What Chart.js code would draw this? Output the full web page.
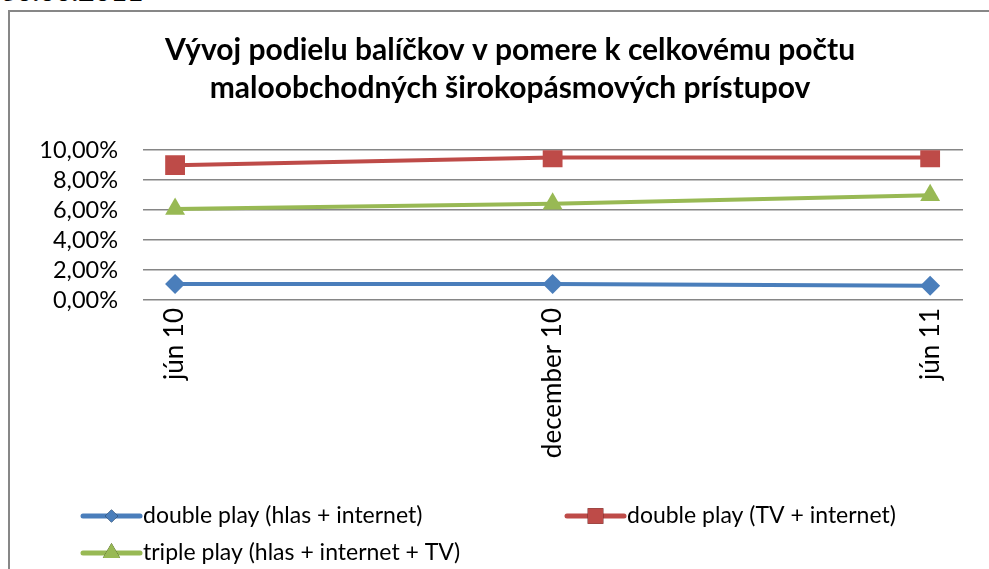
<!DOCTYPE html>
<html>
<head>
<meta charset="utf-8">
<script src="https://cdn.jsdelivr.net/npm/chart.js@4/dist/chart.umd.min.js"></script>
<style>
  html, body { margin: 0; padding: 0; background: #ffffff; width: 989px; height: 569px; overflow: hidden; }
  #frame { position: absolute; left: 8px; top: 10px; width: 1000px; height: 700px; border-left: 2px solid #878787; border-top: 2px solid #878787; box-sizing: border-box; }
  #date { position: absolute; left: 0px; top: -27px; font: bold 28px Lato, sans-serif; color: #000; white-space: nowrap; line-height: 34px; }
  #wrap { position: absolute; left: 0; top: 0; width: 989px; height: 569px; }
</style>
</head>
<body>
<div id="date">30.06.2011</div>
<div id="frame"></div>
<div id="wrap"><canvas id="c" width="989" height="569"></canvas></div>
<script>
const categories = ['jún 10', 'december 10', 'jún 11'];
const seriesNames = ['double play (hlas + internet)', 'double play (TV + internet)', 'triple play (hlas + internet + TV)'];
const hlasInternet = [1.07, 1.07, 0.95];
const tvInternet = [9.0, 9.52, 9.52];
const triplePlay = [6.08, 6.42, 7.0];
const yTicks = [0, 2, 4, 6, 8, 10];
const titleLines = ['Vývoj podielu balíčkov v pomere k celkovému počtu', 'maloobchodných širokopásmových prístupov'];

const colors = ['#4a7ebb', '#be4b48', '#98b954'];
const styles = ['rectRot', 'rect', 'triangle'];
const radii = [10, 14, 11.5];
const legendRadii = [6.5, 11, 10];

function toPoints(arr) { return arr.map((v, i) => ({ x: i, y: v })); }
const allSeries = [hlasInternet, tvInternet, triplePlay];

const legendPlugin = {
  id: 'customLegend',
  afterLayout(chart) {
    if (chart.titleBlock) { chart.titleBlock.left = 57; }
  },
  afterDraw(chart) {
    const ctx = chart.ctx;
    const pos = [
      { x: 83, y: 516 },
      { x: 567, y: 516 },
      { x: 83, y: 553 }
    ];
    chart.data.datasets.forEach((ds, i) => {
      const p = pos[i];
      ctx.save();
      ctx.strokeStyle = ds.borderColor;
      ctx.lineWidth = 5;
      ctx.lineCap = 'round';
      ctx.beginPath();
      ctx.moveTo(p.x, p.y);
      ctx.lineTo(p.x + 57, p.y);
      ctx.stroke();
      Chart.helpers.drawPoint(ctx, {
        pointStyle: ds.pointStyle,
        radius: legendRadii[i],
        rotation: 0,
        borderWidth: 0
      }, p.x + 28.5, p.y);
      ctx.fillStyle = ds.borderColor;
      ctx.fill();
      ctx.fillStyle = '#000';
      ctx.font = '23px Lato, sans-serif';
      ctx.textBaseline = 'middle';
      ctx.textAlign = 'left';
      ctx.fillText(ds.label, p.x + 60, p.y);
      ctx.restore();
    });
  }
};

new Chart(document.getElementById('c'), {
  type: 'line',
  data: {
    datasets: allSeries.map((s, i) => ({
      label: seriesNames[i],
      data: toPoints(s),
      borderColor: colors[i],
      backgroundColor: colors[i],
      borderWidth: 4,
      pointStyle: styles[i],
      pointRadius: radii[i],
      pointHoverRadius: radii[i],
      pointBorderWidth: 0,
      tension: 0
    }))
  },
  options: {
    responsive: false,
    animation: false,
    events: [],
    layout: { padding: { left: 0, right: 26, top: 0, bottom: 100 } },
    plugins: {
      legend: { display: false },
      tooltip: { enabled: false },
      title: {
        display: true,
        text: titleLines,
        color: '#000',
        font: { family: 'Lato, sans-serif', size: 30, weight: 'bold', lineHeight: 1.27 },
        padding: { top: 31, bottom: 43 }
      }
    },
    scales: {
      x: {
        type: 'linear',
        min: -0.085,
        max: 2.087,
        afterFit(s) { s.height = 169; },
        grid: { display: false, drawTicks: false },
        border: { display: false },
        ticks: {
          stepSize: 1,
          includeBounds: false,
          autoSkip: false,
          minRotation: 90,
          maxRotation: 90,
          padding: 8,
          color: '#000',
          font: { family: 'Lato, sans-serif', size: 26 },
          callback: (v) => Number.isInteger(v) ? categories[v] : ''
        }
      },
      y: {
        min: 0,
        max: 10,
        afterFit(s) { s.width = 143; },
        afterBuildTicks(s) { s.ticks = yTicks.map(v => ({ value: v })); },
        grid: { color: '#868686', lineWidth: 1.5, drawTicks: false },
        border: { display: false },
        ticks: {
          autoSkip: false,
          padding: 25,
          color: '#000',
          font: { family: 'Lato, sans-serif', size: 23.5 },
          callback: (v) => v.toFixed(2).replace('.', ',') + '%'
        }
      }
    }
  },
  plugins: [legendPlugin]
});
</script>
</body>
</html>
